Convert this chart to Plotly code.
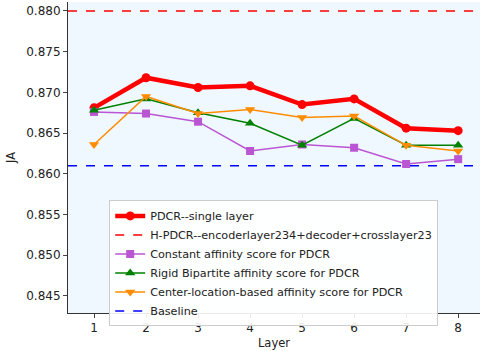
import plotly.graph_objects as go

layers = [1, 2, 3, 4, 5, 6, 7, 8]
pdcr_single = [0.8681, 0.8718, 0.8706, 0.8708, 0.8685, 0.8692, 0.8656, 0.8653]
constant_aff = [0.8676, 0.8674, 0.8664, 0.8628, 0.8636, 0.8632, 0.8612, 0.8618]
rigid_aff = [0.8678, 0.8692, 0.8675, 0.8662, 0.8635, 0.8668, 0.8635, 0.8635]
center_aff = [0.8636, 0.8695, 0.8674, 0.8679, 0.8669, 0.8671, 0.8635, 0.8628]
h_pdcr = 0.8800
baseline = 0.8610
yticks = [0.845, 0.850, 0.855, 0.860, 0.865, 0.870, 0.875, 0.880]

x_rng = [0.5, 8.42]

fig = go.Figure()
fig.add_trace(go.Scatter(x=layers, y=pdcr_single, mode="lines+markers", name="PDCR--single layer",
                         line=dict(color="#FF0000", width=4.5), marker=dict(size=9, color="#FF0000")))
fig.add_trace(go.Scatter(x=x_rng, y=[h_pdcr, h_pdcr], mode="lines",
                         name="H-PDCR--encoderlayer234+decoder+crosslayer23",
                         line=dict(color="#FF0000", width=1.5, dash="dash")))
fig.add_trace(go.Scatter(x=layers, y=constant_aff, mode="lines+markers", name="Constant affinity score for PDCR",
                         line=dict(color="#BA55D3", width=1.5), marker=dict(symbol="square", size=8, color="#BA55D3")))
fig.add_trace(go.Scatter(x=layers, y=rigid_aff, mode="lines+markers", name="Rigid Bipartite affinity score for PDCR",
                         line=dict(color="#008000", width=1.5), marker=dict(symbol="triangle-up", size=9, color="#008000")))
fig.add_trace(go.Scatter(x=layers, y=center_aff, mode="lines+markers",
                         name="Center-location-based affinity score for PDCR",
                         line=dict(color="#FF8C00", width=1.5), marker=dict(symbol="triangle-down", size=9, color="#FF8C00")))
fig.add_trace(go.Scatter(x=x_rng, y=[baseline, baseline], mode="lines", name="Baseline",
                         line=dict(color="#0000FF", width=1.5, dash="dash")))

fig.update_layout(
    width=480, height=351,
    margin=dict(l=68, r=0, t=2, b=38, autoexpand=False),
    paper_bgcolor="white", plot_bgcolor="#F0F8FF",
    font=dict(family="DejaVu Sans", size=12, color="#222"),
    legend=dict(x=0.1, y=0.362, xanchor="left", yanchor="top", bgcolor="rgba(255,255,255,0.9)",
                bordercolor="#CCCCCC", borderwidth=1, font=dict(size=11.2), tracegroupgap=0,
                itemwidth=30),
    showlegend=True,
)
fig.update_xaxes(range=x_rng, tickvals=layers, showgrid=False, zeroline=False, automargin=False,
                 showline=True, linecolor="#333", linewidth=1, ticks="outside", ticklen=4,
                 title=dict(text="Layer", font=dict(size=11.5), standoff=4))
fig.update_yaxes(range=[0.8429, 0.8811], tickvals=yticks, tickformat=".3f", showgrid=False, zeroline=False,
                 automargin=False,
                 showline=True, linecolor="#333", linewidth=1, ticks="outside", ticklen=4,
                 title=dict(text="JA", font=dict(size=11.5), standoff=8))

fig.write_html("out.html", config={"displayModeBar": False},
               post_script="document.body.style.margin='0';document.body.style.overflow='hidden';")
